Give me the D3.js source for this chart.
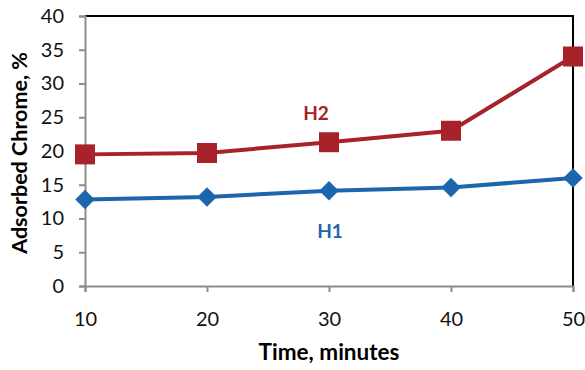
<!DOCTYPE html>
<html>
<head>
<meta charset="utf-8">
<script src="https://cdn.jsdelivr.net/npm/d3@7"></script>
<style>
  body { margin: 0; background: #fff; }
  text { font-family: Lato, "Open Sans", sans-serif; }
</style>
</head>
<body>
<div id="chart"></div>
<script>
// chart values
const times = [10, 20, 30, 40, 50];
const h1 = [12.8, 13.2, 14.1, 14.6, 16.0];
const h2 = [19.5, 19.7, 21.3, 23.0, 34.0];
const yTicks = [0, 5, 10, 15, 20, 25, 30, 35, 40];

const width = 585;
const height = 370;
const margin = {left: 85, right: 12, top: 16, bottom: 84};

const svg = d3.select("#chart")
  .append("svg")
  .attr("width", width)
  .attr("height", height);

const xScale = d3.scaleLinear()
  .domain([10, 50])
  .range([margin.left, width - margin.right]);

const yScale = d3.scaleLinear()
  .domain([0, 40])
  .range([height - margin.bottom, margin.top]);

// top and right frame lines are black
svg.append("path")
  .attr("d", `M${xScale(10)},${yScale(40)}H${xScale(50)}V${yScale(0)}`)
  .attr("fill", "none")
  .attr("stroke", "#000")
  .attr("stroke-width", 2);

// y axis
const yAxis = svg.append("g")
  .attr("transform", `translate(${margin.left},0)`)
  .call(d3.axisLeft(yScale).tickValues(yTicks).tickSize(6).tickPadding(15));
yAxis.selectAll("path, line").attr("stroke", "#8c8c8c").attr("stroke-width", 2);
yAxis.selectAll("text").attr("font-size", "20px").attr("fill", "#111");

// x axis
const xAxis = svg.append("g")
  .attr("transform", `translate(0,${height - margin.bottom})`)
  .call(d3.axisBottom(xScale).tickValues(times).tickSize(6).tickPadding(20));
xAxis.selectAll("path, line").attr("stroke", "#8c8c8c").attr("stroke-width", 2);
xAxis.selectAll("text").attr("font-size", "20px").attr("fill", "#111");

// axis titles
svg.append("text")
  .attr("transform", `translate(27,153) rotate(-90)`)
  .attr("text-anchor", "middle")
  .attr("font-size", "21.5px")
  .attr("font-weight", "bold")
  .text("Adsorbed Chrome, %");

svg.append("text")
  .attr("x", 329)
  .attr("y", 360)
  .attr("text-anchor", "middle")
  .attr("font-size", "22.5px")
  .attr("font-weight", "bold")
  .text("Time, minutes");

const line = d3.line()
  .x((d, i) => xScale(times[i]))
  .y(d => yScale(d));

// H2 series, red squares
svg.append("path")
  .datum(h2)
  .attr("d", line)
  .attr("fill", "none")
  .attr("stroke", "#a8222a")
  .attr("stroke-width", 4);

svg.selectAll(".sq")
  .data(h2)
  .enter()
  .append("path")
  .attr("class", "sq")
  .attr("d", d3.symbol(d3.symbolSquare, 400))
  .attr("transform", (d, i) => `translate(${xScale(times[i])},${yScale(d)})`)
  .attr("fill", "#a8222a");

// H1 series, blue diamonds
svg.append("path")
  .datum(h1)
  .attr("d", line)
  .attr("fill", "none")
  .attr("stroke", "#1d66ad")
  .attr("stroke-width", 4);

svg.selectAll(".dm")
  .data(h1)
  .enter()
  .append("path")
  .attr("class", "dm")
  .attr("d", d3.symbol(d3.symbolSquare, 190))
  .attr("transform", (d, i) => `translate(${xScale(times[i])},${yScale(d)}) rotate(45)`)
  .attr("fill", "#1d66ad");

// series labels
svg.append("text")
  .attr("x", 316)
  .attr("y", 120)
  .attr("text-anchor", "middle")
  .attr("font-size", "19px")
  .attr("font-weight", "bold")
  .attr("fill", "#a8222a")
  .text("H2");

svg.append("text")
  .attr("x", 330)
  .attr("y", 238)
  .attr("text-anchor", "middle")
  .attr("font-size", "19px")
  .attr("font-weight", "bold")
  .attr("fill", "#1d66ad")
  .text("H1");
</script>
</body>
</html>
